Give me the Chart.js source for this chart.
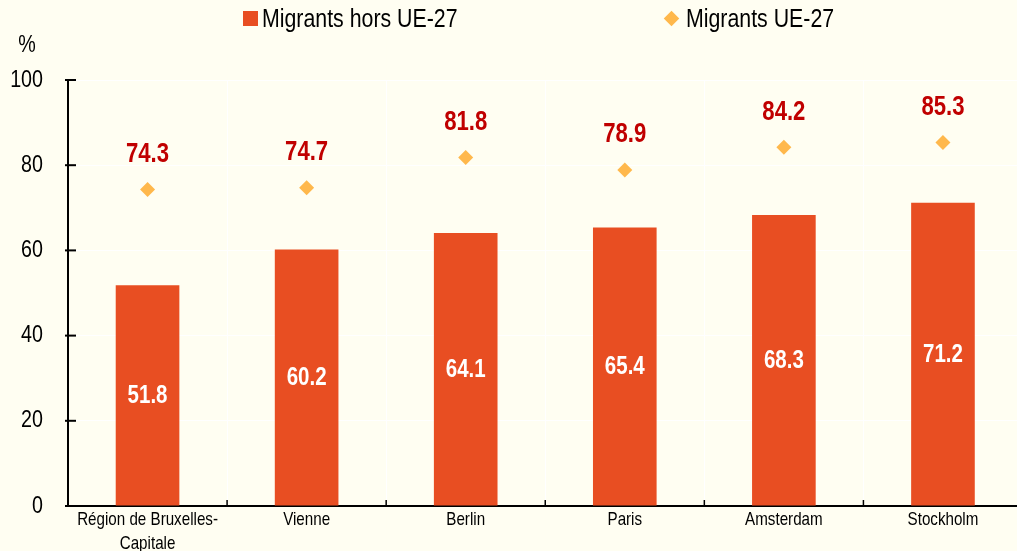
<!DOCTYPE html>
<html lang="fr">
<head>
<meta charset="utf-8">
<title>Migrants hors UE-27 / Migrants UE-27</title>
<script src="https://cdn.jsdelivr.net/npm/chart.js@4.4.1/dist/chart.umd.min.js"></script>
<style>
  html, body { margin: 0; padding: 0; background: #fffef2; overflow: hidden; }
  #wrap { position: relative; width: 1030px; height: 551px; }
  #chart { position: absolute; left: 0; top: 0; }
  .legend { position: absolute; top: 3px; height: 30px; font: 26px 'Liberation Sans', Arial, sans-serif; color: #000; line-height: 30px; white-space: nowrap; }
  .legend i { position: absolute; }
  .legend span { position: absolute; top: 0; transform: scaleX(0.82); transform-origin: left center; }
  .sq { left: 0; top: 8px; width: 15px; height: 15px; background: #e84e22; }
  .dm { left: 0; top: 9.5px; width: 11px; height: 11px; background: #ffb84c; transform: rotate(45deg); }
</style>
</head>
<body>
<div id="wrap">
  <canvas id="chart" width="1030" height="551"></canvas>
  <div class="legend" style="left:243px"><i class="sq"></i><span style="left:19px">Migrants hors UE-27</span></div>
  <div class="legend" style="left:666px"><i class="dm"></i><span style="left:20px">Migrants UE-27</span></div>
</div>
<script>
const categories = [['Région de Bruxelles-', 'Capitale'], 'Vienne', 'Berlin', 'Paris', 'Amsterdam', 'Stockholm'];
const nonEuRates = [51.8, 60.2, 64.1, 65.4, 68.3, 71.2];
const euRates = [74.3, 74.7, 81.8, 78.9, 84.2, 85.3];
const yMin = 0;
const yMax = 100;
const yStep = 20;

const FONT = "'Liberation Sans', Arial, sans-serif";
const NARROW = 0.82; // no Arial Narrow here, squeeze Liberation Sans instead
const BAR = '#e84e22';
const DIAMOND = '#ffb84c';
const RED = '#c00000';

Chart.defaults.font.family = FONT;

function narrowText(ctx, text, x, y, align) {
  ctx.save();
  ctx.translate(x, y);
  ctx.scale(NARROW, 1);
  ctx.textAlign = align || 'center';
  ctx.fillText(text, 0, 0);
  ctx.restore();
}

// tick labels, inward tick marks and the % unit
const axisMarks = {
  id: 'axisMarks',
  afterDraw(chart) {
    const { ctx, chartArea, scales: { x, y } } = chart;
    ctx.save();
    ctx.strokeStyle = '#000';
    ctx.lineWidth = 2;
    y.ticks.forEach((t) => {
      const py = y.getPixelForValue(t.value);
      ctx.beginPath();
      ctx.moveTo(chartArea.left - 3, py);
      ctx.lineTo(chartArea.left + 8, py);
      ctx.stroke();
    });
    ctx.lineWidth = 1.5;
    for (let i = 1; i < categories.length; i++) {
      const px = x.getPixelForValue(i - 0.5);
      ctx.beginPath();
      ctx.moveTo(px, chartArea.bottom);
      ctx.lineTo(px, chartArea.bottom - 6);
      ctx.stroke();
    }

    ctx.fillStyle = '#000';
    ctx.textBaseline = 'middle';
    ctx.font = `24px ${FONT}`;
    y.ticks.forEach((t) => narrowText(ctx, String(t.value), chartArea.left - 25, y.getPixelForValue(t.value), 'right'));
    narrowText(ctx, '%', chartArea.left - 41, chartArea.top - 35);

    ctx.font = `18.5px ${FONT}`;
    categories.forEach((c, i) => {
      const lines = Array.isArray(c) ? c : [c];
      lines.forEach((l, j) => narrowText(ctx, l, x.getPixelForValue(i), chartArea.bottom + 14 + j * 24));
    });
    ctx.restore();
  }
};

const valueLabels = {
  id: 'valueLabels',
  afterDatasetsDraw(chart) {
    const { ctx } = chart;
    const pts = chart.getDatasetMeta(0).data;
    const bars = chart.getDatasetMeta(1).data;
    ctx.save();
    ctx.textBaseline = 'middle';
    ctx.font = `bold 25px ${FONT}`;
    ctx.fillStyle = '#fff';
    bars.forEach((b, i) => narrowText(ctx, nonEuRates[i].toFixed(1), b.x, (b.y + b.base) / 2 + 1));
    ctx.font = `bold 27px ${FONT}`;
    ctx.fillStyle = RED;
    pts.forEach((p, i) => narrowText(ctx, euRates[i].toFixed(1), p.x, p.y - 35));
    ctx.restore();
  }
};

new Chart(document.getElementById('chart'), {
  data: {
    labels: categories,
    datasets: [
      {
        type: 'line', label: 'Migrants UE-27', data: euRates, showLine: false,
        pointStyle: 'rectRot', pointRadius: 7.5, pointHoverRadius: 7.5,
        pointBackgroundColor: DIAMOND, pointBorderWidth: 0, order: 0
      },
      {
        type: 'bar', label: 'Migrants hors UE-27', data: nonEuRates,
        backgroundColor: BAR, barPercentage: 1, categoryPercentage: 0.4, order: 1
      }
    ]
  },
  options: {
    responsive: false,
    animation: false,
    layout: { padding: { top: 80, right: 2, left: 0, bottom: 0 } },
    plugins: { legend: { display: false }, tooltip: { enabled: false } },
    scales: {
      x: {
        grid: { color: '#ffffff', offset: true, drawTicks: false },
        border: { color: '#000', width: 2 },
        ticks: { display: false, autoSkip: false },
        afterFit: (s) => { s.height = 45; }
      },
      y: {
        min: yMin, max: yMax,
        grid: { color: '#ffffff', drawTicks: false },
        border: { color: '#000', width: 2 },
        ticks: { display: false, stepSize: yStep },
        afterFit: (s) => { s.width = 68; }
      }
    }
  },
  plugins: [valueLabels, axisMarks]
});
</script>
</body>
</html>
